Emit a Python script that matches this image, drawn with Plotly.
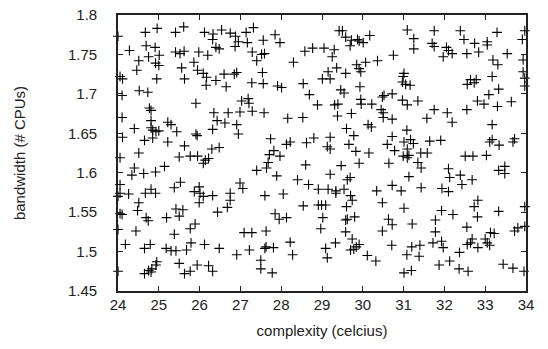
import plotly.graph_objects as go

# complexity (x) / bandwidth (y) values, read region by region
cx1 = [24.0,24.67,24.96,25.41,25.61,26.12,26.33,26.32,24.28,24.69,24.91,24.75,25.01,24.51,25.41,25.52,25.62,25.98,26.20,26.40,26.48,24.46,24.92,25.0,25.86,25.56,25.95,26.09,26.17,26.40,26.16,24.05,24.11,24.95,25.63,24.10,24.52,24.73,25.91]
by1 = [1.773,1.778,1.783,1.778,1.785,1.778,1.776,1.769,1.755,1.761,1.759,1.747,1.749,1.742,1.753,1.751,1.754,1.753,1.749,1.759,1.757,1.730,1.739,1.736,1.740,1.733,1.730,1.726,1.721,1.717,1.711,1.722,1.719,1.719,1.719,1.698,1.704,1.702,1.688]
cx2 = [26.54,26.75,26.88,27.14,27.32,26.95,27.17,26.87,27.56,27.85,27.97,27.29,27.52,27.59,27.40,28.30,28.58,28.77,29.05,26.60,26.85,26.91,27.54,26.65,27.28,27.56,27.91,28.01,28.54,29.01,28.69,27.03,27.19,27.21,28.89]
by2 = [1.781,1.777,1.773,1.778,1.784,1.766,1.765,1.760,1.768,1.775,1.765,1.753,1.750,1.751,1.742,1.740,1.754,1.758,1.758,1.725,1.725,1.727,1.727,1.709,1.714,1.713,1.710,1.708,1.713,1.719,1.699,1.691,1.694,1.688,1.686]
cx3 = [29.42,29.50,29.58,29.72,29.87,29.91,30.01,29.69,30.17,31.09,31.25,31.25,29.30,29.25,30.75,30.07,30.36,29.85,29.91,29.95,29.36,29.15,29.20,29.58,31.01,30.99,30.97,31.05,31.16,29.93,29.46,29.54,30.48,30.52,30.72,30.97,31.09,31.35,29.95,29.96,30.22,29.31,29.39]
by3 = [1.780,1.780,1.772,1.768,1.769,1.767,1.765,1.761,1.774,1.781,1.770,1.757,1.756,1.747,1.749,1.740,1.742,1.737,1.732,1.728,1.733,1.728,1.719,1.726,1.726,1.722,1.715,1.712,1.711,1.709,1.705,1.701,1.696,1.698,1.700,1.692,1.686,1.691,1.693,1.687,1.687,1.686,1.687]
cx4 = [31.75,32.39,32.48,33.29,33.97,33.91,31.70,31.75,32.05,32.10,32.19,31.97,32.74,33.05,33.05,32.55,32.84,33.54,33.19,33.31,33.93,33.93,33.97,33.17,32.64,32.78,32.56,32.73,33.33,33.09,33.97,32.81,32.97,33.30,33.64]
by4 = [1.780,1.780,1.769,1.778,1.780,1.769,1.764,1.760,1.759,1.755,1.751,1.747,1.764,1.766,1.762,1.751,1.753,1.751,1.743,1.737,1.743,1.728,1.720,1.722,1.718,1.718,1.712,1.714,1.706,1.699,1.710,1.691,1.687,1.684,1.690]
cx5 = [24.77,24.81,24.10,24.81,25.22,25.30,24.40,24.81,24.85,24.93,25.0,25.44,25.91,25.94,26.35,26.43,26.32,24.11,24.65,24.85,25.22,24.51,25.63,26.30,26.48,24.05,25.50,25.77,25.95,26.09,26.14,26.22,24.40,24.34,24.63,24.92,25.14,24.05,25.53,25.38,25.99,25.87,26.01,26.09,26.32,24.05,24.0,24.26,24.67,24.81,24.92,24.51,25.99]
by5 = [1.682,1.679,1.670,1.666,1.664,1.661,1.656,1.657,1.654,1.652,1.653,1.652,1.649,1.647,1.676,1.666,1.655,1.645,1.641,1.644,1.639,1.625,1.634,1.630,1.632,1.619,1.620,1.621,1.621,1.612,1.616,1.618,1.606,1.597,1.599,1.601,1.608,1.585,1.588,1.581,1.582,1.576,1.574,1.570,1.571,1.574,1.570,1.573,1.574,1.579,1.574,1.562,1.562]
cx6 = [26.70,26.99,27.29,27.58,26.62,26.91,28.16,28.53,26.95,27.74,28.13,28.22,28.62,28.80,27.71,27.82,27.97,27.68,27.64,27.40,28.60,27.89,28.40,28.67,28.91,26.99,27.06,26.75,26.75,27.60,28.05]
by6 = [1.676,1.677,1.678,1.676,1.663,1.661,1.669,1.670,1.649,1.643,1.636,1.639,1.638,1.644,1.623,1.628,1.621,1.613,1.606,1.603,1.610,1.596,1.591,1.585,1.579,1.587,1.580,1.574,1.565,1.571,1.573]
cx7 = [30.45,30.50,30.50,30.72,29.38,29.72,31.57,29.60,30.13,30.21,31.08,29.20,29.78,29.66,29.13,29.20,29.83,30.15,30.72,30.60,30.78,31.01,31.17,31.24,31.09,30.99,31.09,31.13,31.42,31.58,31.35,31.43,30.64,29.47,29.91,29.20,29.62,29.69,31.13,29.15,29.34,29.34,29.54,29.70,29.74,30.34,30.72,30.94,31.43,30.48]
by7 = [1.680,1.676,1.670,1.668,1.672,1.675,1.669,1.656,1.661,1.658,1.654,1.645,1.647,1.636,1.633,1.630,1.627,1.625,1.646,1.636,1.628,1.639,1.642,1.637,1.630,1.621,1.619,1.622,1.625,1.625,1.613,1.606,1.612,1.609,1.612,1.598,1.591,1.594,1.595,1.579,1.577,1.574,1.579,1.571,1.565,1.577,1.584,1.577,1.581,1.562]
cx8 = [31.75,32.07,32.19,32.55,33.17,31.64,31.91,33.11,33.17,33.34,33.68,33.72,32.51,32.70,33.03,32.10,33.33,33.48,33.48,32.13,32.39,32.43,32.68,31.94,32.10,32.82]
by8 = [1.680,1.676,1.664,1.680,1.661,1.640,1.641,1.639,1.642,1.635,1.639,1.643,1.621,1.621,1.622,1.605,1.603,1.608,1.599,1.594,1.597,1.585,1.591,1.580,1.576,1.565]
cx9 = [24.48,24.05,24.10,25.42,25.59,25.50,24.69,24.74,25.19,26.44,24.0,24.44,25.38,25.77,25.89,24.18,24.65,24.79,25.18,25.30,25.42,25.68,25.79,26.12,26.48,24.0,24.65,24.75,24.83,24.93,24.95,24.81,25.50,25.63,25.77,25.94,26.22,26.32]
by9 = [1.552,1.548,1.547,1.554,1.553,1.545,1.543,1.539,1.543,1.550,1.528,1.526,1.522,1.529,1.535,1.509,1.504,1.509,1.504,1.501,1.501,1.502,1.511,1.509,1.504,1.475,1.472,1.476,1.478,1.483,1.487,1.474,1.485,1.472,1.475,1.483,1.482,1.475]
cx10 = [26.68,27.85,27.95,28.13,28.54,28.91,28.99,29.02,28.97,27.09,27.28,27.63,28.22,26.91,27.22,27.60,27.63,27.81,28.28,27.50,27.50,27.78]
by10 = [1.556,1.548,1.541,1.543,1.558,1.559,1.559,1.543,1.529,1.524,1.524,1.526,1.512,1.496,1.502,1.504,1.506,1.505,1.496,1.489,1.478,1.473]
cx11 = [29.09,29.60,31.01,29.58,29.62,29.80,30.63,30.72,31.21,29.58,29.74,30.48,29.33,29.09,29.13,29.70,29.78,29.84,29.91,30.71,31.20,31.40,30.11,30.32,31.08,31.38,31.01,31.19]
by11 = [1.559,1.557,1.555,1.540,1.541,1.544,1.541,1.534,1.535,1.525,1.516,1.526,1.511,1.504,1.492,1.502,1.503,1.506,1.509,1.508,1.506,1.508,1.495,1.488,1.496,1.494,1.473,1.476]
cx12 = [31.93,32.21,32.73,32.81,33.33,33.97,31.78,31.78,32.55,31.72,31.93,31.97,32.56,32.64,32.68,32.82,33.0,33.05,33.11,33.13,33.22,33.72,33.80,33.97,32.37,32.13,31.87,32.36,32.58,33.44,33.68,33.95]
by12 = [1.552,1.547,1.557,1.544,1.551,1.557,1.540,1.525,1.531,1.511,1.513,1.505,1.509,1.511,1.516,1.505,1.516,1.511,1.508,1.524,1.523,1.526,1.530,1.532,1.499,1.488,1.483,1.478,1.475,1.484,1.479,1.475]

x_ticks = [24, 25, 26, 27, 28, 29, 30, 31, 32, 33, 34]
x_tick_labels = ["24", "25", "26", "27", "28", "29", "30", "31", "32", "33", "34"]
y_ticks = [1.45, 1.5, 1.55, 1.6, 1.65, 1.7, 1.75, 1.8]
y_tick_labels = ["1.45", "1.5", "1.55", "1.6", "1.65", "1.7", "1.75", "1.8"]

xs, ys = [], []
for a, b in [(cx1, by1), (cx2, by2), (cx3, by3), (cx4, by4), (cx5, by5), (cx6, by6),
             (cx7, by7), (cx8, by8), (cx9, by9), (cx10, by10), (cx11, by11), (cx12, by12)]:
    for p, q in zip(a, b):
        xs.append(p)
        ys.append(q)

fig = go.Figure()
fig.add_trace(go.Scatter(
    x=xs, y=ys, mode="markers",
    marker=dict(symbol="cross-thin", size=7, line=dict(width=1.1, color="#000000"), color="#000000"),
    cliponaxis=False, showlegend=False,
))

font = dict(family="Liberation Sans, Arial, sans-serif", size=15, color="#222222")
axis_common = dict(
    showline=True, linecolor="#222222", linewidth=1.6, mirror="ticks",
    ticks="inside", ticklen=5, tickwidth=1, tickcolor="#222222",
    showgrid=False, zeroline=False, tickfont=font, automargin=False,
)
fig.update_layout(
    width=548, height=349,
    margin=dict(l=118, r=22, t=15, b=58),
    paper_bgcolor="white", plot_bgcolor="white",
    font=font,
    xaxis=dict(range=[24, 34], tickvals=x_ticks, ticktext=x_tick_labels,
               title=dict(text="complexity (celcius)", font=font, standoff=14),
               ticklabelstandoff=-1, **axis_common),
    yaxis=dict(range=[1.45, 1.8], tickvals=y_ticks, ticktext=y_tick_labels,
               title=dict(text="bandwidth (# CPUs)", font=font, standoff=39),
               ticklabelstandoff=16, **axis_common),
)
fig.write_html("out.html", config={"displayModeBar": False},
               post_script="document.body.style.margin='0';")
